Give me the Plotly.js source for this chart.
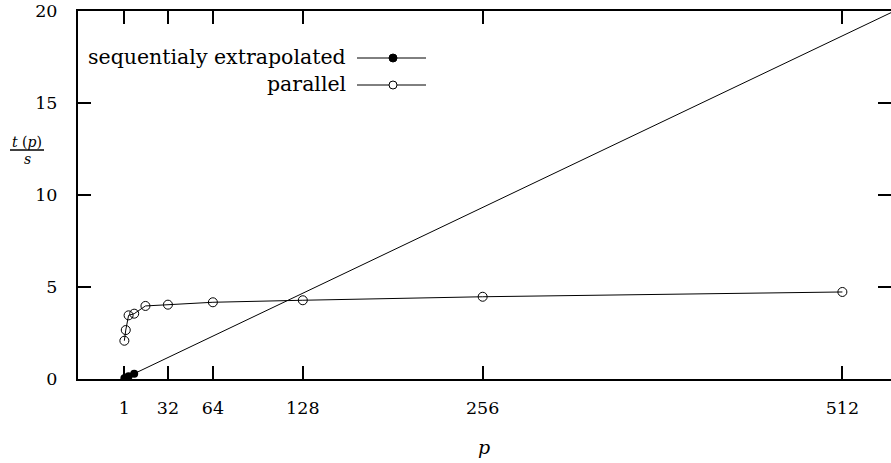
<!DOCTYPE html>
<html><head><meta charset="utf-8">
<script src="https://cdn.plot.ly/plotly-3.0.1.min.js"></script>
<style>html,body{margin:0;padding:0;background:#fff}#c{width:891px;height:463px}</style>
</head><body><div id="c"></div>
<script>
// data
const seqName = "sequentialy extrapolated";
const parName = "parallel";
const seqP = [1, 2, 4, 8, 1024];
const seqT = [0.0364, 0.0728, 0.146, 0.291, 37.3];
const parP = [1, 2, 4, 8, 16, 32, 64, 128, 256, 512];
const parT = [2.08, 2.66, 3.46, 3.55, 3.97, 4.04, 4.17, 4.28, 4.47, 4.73];
const xTicks = [1, 32, 64, 128, 256, 512];
const yTicks = [0, 5, 10, 15, 20];

const FONT = "DejaVu Serif";
const W = 891, H = 463;
const L = 78, R = 0, T = 11, B = 84;

const traces = [
  {x: seqP, y: seqT, mode: 'lines+markers', name: seqName, showlegend: false,
   line: {color: '#000', width: 1}, marker: {symbol: 'circle', size: 8, color: '#000'}},
  {x: parP, y: parT, mode: 'lines+markers', name: parName, showlegend: false,
   line: {color: '#000', width: 1},
   marker: {symbol: 'circle-open', size: 9, color: '#000', line: {width: 1, color: '#000'}}}
];

// legend drawn manually (text left of sample, gnuplot style)
const plotW = W - L - R, plotH = H - T - B;
const px = v => (v - L) / plotW;
const py = v => (H - B - v) / plotH;
const legendRows = [{name: seqName, y: 57, filled: true}, {name: parName, y: 84, filled: false}];
const annotations = [];
const shapes = [];
legendRows.forEach(r => {
  annotations.push({xref: 'paper', yref: 'paper', x: px(348), y: py(r.y), xanchor: 'right', yanchor: 'middle',
    text: r.name, showarrow: false, font: {family: FONT, size: 20.5, color: '#000'}});
  shapes.push({type: 'line', xref: 'paper', yref: 'paper', x0: px(357), x1: px(426), y0: py(r.y + 1), y1: py(r.y + 1),
    line: {color: '#000', width: 1}});
  shapes.push({type: 'circle', xref: 'paper', yref: 'paper', xsizemode: 'pixel', ysizemode: 'pixel',
    xanchor: px(393), yanchor: py(r.y + 1), x0: -4, x1: 4, y0: -4, y1: 4,
    fillcolor: r.filled ? '#000' : '#fff', line: {color: '#000', width: 1}});
});
// y-axis title as a fraction t(p)/s
annotations.push({xref: 'paper', yref: 'paper', x: px(27), y: py(142), xanchor: 'center', yanchor: 'middle',
  text: '<i>t</i> (<i>p</i>)', showarrow: false, font: {family: FONT, size: 14, color: '#000'}});
annotations.push({xref: 'paper', yref: 'paper', x: px(27), y: py(159), xanchor: 'center', yanchor: 'middle',
  text: '<i>s</i>', showarrow: false, font: {family: FONT, size: 14, color: '#000'}});
shapes.push({type: 'line', xref: 'paper', yref: 'paper', x0: px(10), x1: px(44), y0: py(150), y1: py(150),
  line: {color: '#000', width: 1.5}});
// x-axis title
annotations.push({xref: 'paper', yref: 'paper', x: px(484), y: py(447), xanchor: 'center', yanchor: 'middle',
  text: '<i>p</i>', showarrow: false, font: {family: FONT, size: 19, color: '#000'}});

const layout = {
  width: W, height: H,
  margin: {l: L, r: R, t: T, b: B, pad: 0},
  paper_bgcolor: '#fff', plot_bgcolor: '#fff',
  showlegend: false,
  font: {family: FONT, size: 17.5, color: '#000'},
  xaxis: {range: [-32, 546.6], tickvals: xTicks, ticktext: xTicks.map(String),
    ticks: 'inside', ticklen: 13, tickwidth: 2, tickcolor: '#000',
    showline: true, linewidth: 2, linecolor: '#000', mirror: 'ticks',
    showgrid: false, zeroline: false, ticklabelstandoff: 12,
    tickfont: {family: FONT, size: 17.5}},
  yaxis: {range: [0, 20], tickvals: yTicks, ticktext: yTicks.map(String),
    ticks: 'inside', ticklen: 13, tickwidth: 2, tickcolor: '#000',
    showline: true, linewidth: 2, linecolor: '#000', mirror: 'ticks',
    tickfont: {family: FONT, size: 17.5},
    showgrid: false, zeroline: false, ticklabelstandoff: 15},
  annotations: annotations,
  shapes: shapes
};
Plotly.newPlot('c', traces, layout, {staticPlot: true});
</script></body></html>
